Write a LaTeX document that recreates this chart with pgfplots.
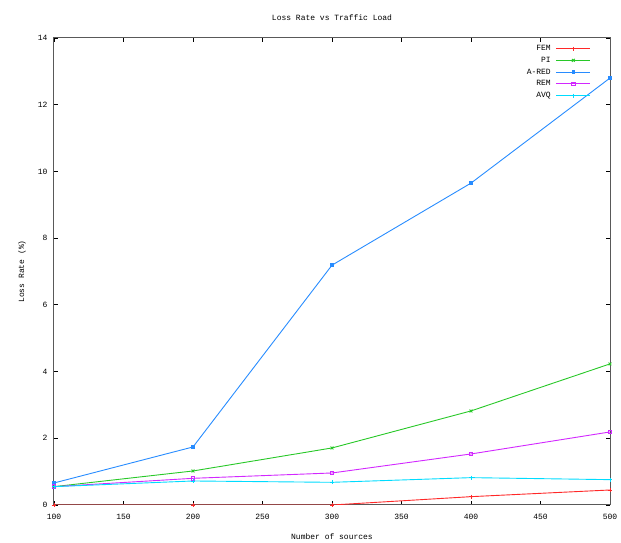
\documentclass[border=0pt]{standalone}
\usepackage{pgfplots}
\pgfplotsset{compat=1.18}
\usepackage{fontspec}
\setmainfont{Liberation Mono}
\definecolor{cfem}{RGB}{255,40,40}
\definecolor{cpi}{RGB}{40,200,40}
\definecolor{cared}{RGB}{40,140,255}
\definecolor{crem}{RGB}{210,40,255}
\definecolor{cavq}{RGB}{0,220,255}
\begin{document}
\begin{tikzpicture}
\begin{axis}[
  name=ax,
  scale only axis,
  width=556pt, height=467pt,
  xmin=100, xmax=500, ymin=0, ymax=14,
  xtick={100,150,...,500}, ytick={0,2,...,14},
  tick align=inside,
  axis line style={gray!70!black, line width=1pt},
  every tick/.style={black, line width=0.8pt},
  major tick length=4pt,
  tick label style={font=\fontsize{8}{9}\selectfont},
  xticklabel style={yshift=-6pt},
  yticklabel style={xshift=-3pt},
  /pgf/number format/assume math mode=true,
  title={Loss Rate vs Traffic Load},
  title style={font=\fontsize{8}{9}\selectfont, at={(axis description cs:0.5,1)}, anchor=center, yshift=14pt},
  xlabel={Number of sources},
  ylabel={Loss Rate (\%)},
  xlabel style={font=\fontsize{8}{9}\selectfont, at={(axis description cs:0.5,0)}, anchor=center, yshift=-32pt},
  ylabel style={font=\fontsize{8}{9}\selectfont, at={(axis description cs:0,0.5)}, anchor=center, yshift=32pt},
  legend style={at={(1,1)}, xshift=-16pt, yshift=-3pt, anchor=north east, draw=none, fill=none,
    font=\fontsize{8}{9}\selectfont, row sep=1pt, column sep=3pt},
  legend cell align=right,
  legend plot pos=right,
  legend image code/.code={\draw[mark repeat=2,mark phase=2] plot coordinates {(0cm,0cm) (0.6cm,0cm) (1.2cm,0cm)};},
  every axis plot/.append style={line width=0.9pt, mark size=2pt},
]
\addplot[cfem, mark=+] coordinates {(100,0) (200,0) (300,0) (400,0.25) (500,0.45)};
\addlegendentry{FEM}
\addplot[cpi, mark=x] coordinates {(100,0.55) (200,1.02) (300,1.71) (400,2.82) (500,4.23)};
\addlegendentry{PI}
\addplot[cared, mark=square*, mark size=1.3pt] coordinates {(100,0.66) (200,1.74) (300,7.19) (400,9.65) (500,12.8)};
\addlegendentry{A-RED}
\addplot[crem, mark=square, mark size=1.8pt] coordinates {(100,0.55) (200,0.80) (300,0.96) (400,1.53) (500,2.19)};
\addlegendentry{REM}
\addplot[cavq, mark=+] coordinates {(100,0.55) (200,0.72) (300,0.68) (400,0.82) (500,0.76)};
\addlegendentry{AVQ}
\end{axis}
\pgfresetboundingbox
\path ([shift={(-54pt,-38pt)}]ax.south west) rectangle ([shift={(11pt,38pt)}]ax.north east);
\end{tikzpicture}
\end{document}
